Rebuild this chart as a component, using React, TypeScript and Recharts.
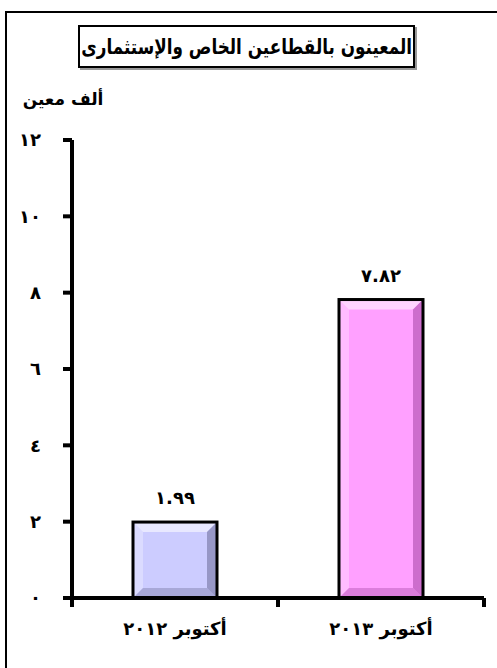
import React from "react";
import { BarChart, Bar, XAxis, YAxis, Cell, LabelList } from "recharts";

const categories = ["أكتوبر ٢٠١٢", "أكتوبر ٢٠١٣"];
const values = [1.99, 7.82];
const valueLabels = ["١.٩٩", "٧.٨٢"];
const colors = ["#CCCCFF", "#FFA0FF"];
const shadeDark = ["#8A8AB8", "#C060C0"];
const yTicks = [0, 2, 4, 6, 8, 10, 12];
const yTickLabels = ["٠", "٢", "٤", "٦", "٨", "١٠", "١٢"];
const edgeTicks = [0, 1, 2];
const title = "المعينون بالقطاعين الخاص والإستثمارى";
const yLabel = "ألف معين";

const data = categories.map((c, i) => ({ name: c, value: values[i], label: valueLabels[i], pos: i + 0.5 }));

const FONT = "'DejaVu Sans', sans-serif";

const BevelBar = (props: any) => {
  const { x, y, width, height, index } = props;
  const b = Math.min(10, width / 4, height / 4);
  const fill = colors[index];
  const dark = shadeDark[index];
  return (
    <g>
      <rect x={x} y={y} width={width} height={height} fill={fill} />
      <polygon points={`${x},${y} ${x + width},${y} ${x + width - b},${y + b} ${x + b},${y + b}`} fill="#ffffff" opacity={0.55} />
      <polygon points={`${x},${y} ${x + b},${y + b} ${x + b},${y + height - b} ${x},${y + height}`} fill="#ffffff" opacity={0.3} />
      <polygon points={`${x + width},${y} ${x + width},${y + height} ${x + width - b},${y + height - b} ${x + width - b},${y + b}`} fill={dark} opacity={0.8} />
      <polygon points={`${x},${y + height} ${x + width},${y + height} ${x + width - b},${y + height - b} ${x + b},${y + height - b}`} fill={dark} opacity={0.55} />
      <rect x={x} y={y} width={width} height={height} fill="none" stroke="#000" strokeWidth={3} />
    </g>
  );
};

const ValueLabel = (props: any) => {
  const { x, y, width, index } = props;
  return (
    <text x={x + width / 2} y={y - 18} textAnchor="middle" fontFamily={FONT} fontWeight="bold" fontSize={18} fill="#000" letterSpacing={3}>
      {valueLabels[index]}
    </text>
  );
};

const EmptyTick = () => <g />;

export default function App() {
  return (
    <div style={{ position: "absolute", left: 0, top: 0, width: 497, height: 668, overflow: "hidden", background: "#fff" }}>
      <div style={{ position: "absolute", left: 5, top: 11, width: 600, height: 700, border: "2px solid #000" }} />
      <div
        style={{
          position: "absolute",
          left: 78,
          top: 25,
          width: 333,
          height: 39,
          border: "2px solid #000",
          boxShadow: "2px 2px 0 #999",
          display: "flex",
          alignItems: "center",
          justifyContent: "center",
        }}
      >
        <span
          style={{
            display: "inline-block",
            whiteSpace: "nowrap",
            fontFamily: FONT,
            fontWeight: "bold",
            fontSize: 21,
            direction: "rtl",
            transform: "scaleX(0.8)",
          }}
        >
          {title}
        </span>
      </div>
      <div
        style={{
          position: "absolute",
          left: 18,
          top: 89,
          width: 90,
          textAlign: "center",
          fontFamily: FONT,
          fontWeight: "bold",
          fontSize: 17,
          direction: "rtl",
          whiteSpace: "nowrap",
        }}
      >
        {yLabel}
      </div>
      <div style={{ position: "absolute", left: 0, top: 0 }}>
        <BarChart width={497} height={668} data={data} margin={{ top: 140, right: 13, bottom: 20, left: 0 }} barCategoryGap="30%">
          <XAxis
            xAxisId="a"
            type="number"
            dataKey="pos"
            domain={[0, 2]}
            ticks={edgeTicks}
            interval={0}
            axisLine={{ stroke: "#000", strokeWidth: 4 }}
            tickLine={{ stroke: "#000", strokeWidth: 4 }}
            tickSize={9}
            tick={<EmptyTick />}
            height={9}
          />
          <XAxis
            dataKey="name"
            xAxisId="b"
            axisLine={false}
            tickLine={false}
            tickMargin={9}
            height={41}
            tick={{ fontFamily: FONT, fontWeight: "bold", fontSize: 18, fill: "#000" }}
          />
          <YAxis
            domain={[0, 12]}
            ticks={yTicks}
            width={72}
            axisLine={{ stroke: "#000", strokeWidth: 4 }}
            tickLine={{ stroke: "#000", strokeWidth: 4 }}
            tickSize={9}
            tickMargin={22}
            tickFormatter={(v: number) => yTickLabels[yTicks.indexOf(v)]}
            tick={{ fontFamily: FONT, fontWeight: "bold", fontSize: 18, fill: "#000" }}
          />
          <Bar dataKey="value" xAxisId="b" isAnimationActive={false} shape={<BevelBar />} barSize={84}>
            {data.map((d, i) => (
              <Cell key={i} fill={colors[i]} />
            ))}
            <LabelList dataKey="label" content={<ValueLabel />} />
          </Bar>
        </BarChart>
      </div>
    </div>
  );
}
